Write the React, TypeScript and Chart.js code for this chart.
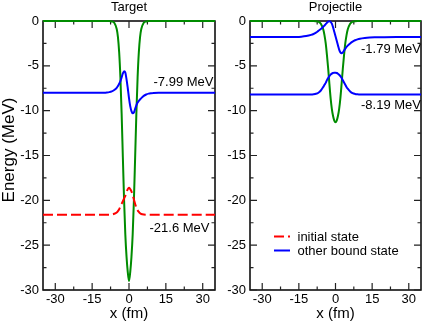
import React, { useEffect, useRef } from "react";
import { Chart, registerables } from "chart.js";

Chart.register(...registerables);

// ---------- data ----------
const xs = [-35, -30, -25, -20, -16, -14, -12, -10, -9, -8, -7, -6, -5, -4.5, -4, -3.5, -3, -2.5, -2, -1.5, -1, -0.5, 0, 0.5, 1, 1.5, 2, 2.5, 3, 3.5, 4, 4.5, 5, 6, 7, 8, 9, 10, 12, 14, 16, 20, 25, 30, 35];

const targetPotential = [0, 0, 0, 0, 0, 0, 0, 0, 0, 0, -0.05, -0.2, -0.9, -1.8, -3.5, -6.3, -10.3, -15.2, -20, -23.8, -26.3, -28, -29, -28, -26.3, -23.8, -20, -15.2, -10.3, -6.3, -3.5, -1.8, -0.9, -0.2, -0.05, 0, 0, 0, 0, 0, 0, 0, 0, 0, 0];
const targetBound = [-7.99, -7.99, -7.99, -7.99, -7.99, -7.99, -7.99, -7.99, -7.97, -7.93, -7.85, -7.7, -7.45, -7.25, -7.0, -6.7, -6.3, -5.85, -5.6, -5.75, -6.5, -7.5, -8.6, -9.5, -10.05, -10.3, -10.2, -9.8, -9.4, -9.1, -8.9, -8.75, -8.6, -8.35, -8.2, -8.1, -8.05, -8.02, -7.99, -7.99, -7.99, -7.99, -7.99, -7.99, -7.99];
const targetInitial = [-21.6, -21.6, -21.6, -21.6, -21.6, -21.6, -21.6, -21.6, -21.6, -21.6, -21.58, -21.5, -21.35, -21.2, -21.0, -20.7, -20.4, -20.1, -19.8, -19.5, -19.1, -18.75, -18.6, -18.75, -19.0, -19.4, -19.9, -20.4, -20.8, -21.1, -21.3, -21.45, -21.52, -21.58, -21.6, -21.6, -21.6, -21.6, -21.6, -21.6, -21.6, -21.6, -21.6, -21.6, -21.6];

const projPotential = [0, 0, 0, 0, 0, 0, 0, 0, 0, -0.02, -0.08, -0.3, -0.95, -1.6, -2.5, -3.8, -5.3, -7.0, -8.6, -9.8, -10.6, -11.1, -11.3, -11.1, -10.6, -9.8, -8.6, -7.0, -5.3, -3.8, -2.5, -1.6, -0.95, -0.3, -0.08, -0.02, 0, 0, 0, 0, 0, 0, 0, 0, 0];
const projBoundUpper = [-1.79, -1.79, -1.79, -1.79, -1.78, -1.75, -1.68, -1.55, -1.45, -1.3, -1.1, -0.9, -0.65, -0.5, -0.35, -0.2, -0.08, -0.03, -0.1, -0.3, -0.7, -1.2, -1.7, -2.2, -2.7, -3.2, -3.5, -3.6, -3.5, -3.3, -3.1, -2.9, -2.75, -2.5, -2.3, -2.15, -2.05, -1.98, -1.9, -1.85, -1.82, -1.8, -1.79, -1.79, -1.79];
const projBoundLower = [-8.19, -8.19, -8.19, -8.19, -8.19, -8.19, -8.19, -8.19, -8.17, -8.12, -8.0, -7.75, -7.35, -7.12, -6.9, -6.6, -6.35, -6.15, -5.98, -5.87, -5.8, -5.76, -5.76, -5.8, -5.88, -6.0, -6.15, -6.35, -6.6, -6.85, -7.1, -7.35, -7.55, -7.85, -8.05, -8.13, -8.17, -8.19, -8.19, -8.19, -8.19, -8.19, -8.19, -8.19, -8.19];

const xTickValues = [-30, -15, 0, 15, 30];
const yTickValues = [-30, -25, -20, -15, -10, -5, 0];

const targetLevelValues = [-7.99, -21.6];
const targetLevelTexts = ["-7.99 MeV", "-21.6 MeV"];
const projLevelValues = [-1.79, -8.19];
const projLevelTexts = ["-1.79 MeV", "-8.19 MeV"];
const legendTexts = ["initial state", "other bound state"];

// ---------- styles ----------
const FONT = "'Liberation Sans', Arial, Helvetica, sans-serif";
const GREEN = "rgb(0,140,0)";
const BLUE = "rgb(0,0,255)";
const RED = "rgb(255,0,0)";

type PanelCfg = {
  title: string;
  yTitle: boolean;
  yWidth: number;
  padRight: number;
  width: number;
  levels: number[];
  levelTexts: string[];
  levelOffsets: { dy: number; dx: number }[];
  legend: boolean;
  datasets: any[];
};

const pts = (ys: number[]) => xs.map((x, i) => ({ x, y: ys[i] }));

const framePlugin = (cfg: PanelCfg) => ({
  id: "frame",
  beforeDatasetsDraw(chart: any) {
    const { ctx, chartArea: a, scales } = chart;
    const xS = scales.x;
    const yS = scales.y;
    ctx.save();
    ctx.strokeStyle = "#000";
    ctx.lineWidth = 1.5;
    ctx.strokeRect(a.left, a.top, a.right - a.left, a.bottom - a.top);
    ctx.lineWidth = 1.2;
    ctx.strokeStyle = "#222";
    const major = 7;
    const minor = 3.5;
    const drawX = (v: number, len: number) => {
      const p = xS.getPixelForValue(v);
      ctx.beginPath();
      ctx.moveTo(p, a.bottom);
      ctx.lineTo(p, a.bottom - len);
      ctx.moveTo(p, a.top);
      ctx.lineTo(p, a.top + len);
      ctx.stroke();
    };
    const drawY = (v: number, len: number) => {
      const p = yS.getPixelForValue(v);
      ctx.beginPath();
      ctx.moveTo(a.left, p);
      ctx.lineTo(a.left + len, p);
      ctx.moveTo(a.right, p);
      ctx.lineTo(a.right - len, p);
      ctx.stroke();
    };
    xTickValues.forEach((v, i) => {
      drawX(v, major);
      if (i > 0) drawX((v + xTickValues[i - 1]) / 2, minor);
    });
    yTickValues.forEach((v, i) => {
      drawY(v, major);
      if (i > 0) drawY((v + yTickValues[i - 1]) / 2, minor);
    });
    ctx.restore();
  },
  afterDraw(chart: any) {
    const { ctx, chartArea: a, scales } = chart;
    const yS = scales.y;
    const cx = (a.left + a.right) / 2;
    ctx.save();
    ctx.fillStyle = "#000";
    ctx.textAlign = "center";
    ctx.textBaseline = "alphabetic";
    ctx.font = `13px ${FONT}`;
    ctx.fillText(cfg.title, cx, 10.5);
    ctx.font = `15px ${FONT}`;
    ctx.fillText("x (fm)", cx, 318);
    if (cfg.yTitle) {
      ctx.save();
      ctx.translate(9, 150);
      ctx.rotate(-Math.PI / 2);
      ctx.font = `17px ${FONT}`;
      ctx.textBaseline = "middle";
      ctx.fillText("Energy (MeV)", 0, 0);
      ctx.restore();
    }
    // level annotations
    ctx.font = `13px ${FONT}`;
    ctx.textAlign = "right";
    ctx.textBaseline = "alphabetic";
    cfg.levels.forEach((lv, i) => {
      const off = cfg.levelOffsets[i];
      ctx.fillText(cfg.levelTexts[i], a.right + off.dx, yS.getPixelForValue(lv) + off.dy);
    });
    // legend
    if (cfg.legend) {
      const lx0 = a.left + 24;
      const lx1 = lx0 + 16;
      const rows = [
        { y: 236.5, color: RED, dash: [10, 4] },
        { y: 250.5, color: BLUE, dash: [] as number[] },
      ];
      rows.forEach((r, i) => {
        ctx.beginPath();
        ctx.strokeStyle = r.color;
        ctx.lineWidth = 2;
        ctx.setLineDash(r.dash);
        ctx.moveTo(lx0, r.y);
        ctx.lineTo(lx1, r.y);
        ctx.stroke();
        ctx.setLineDash([]);
        ctx.textAlign = "left";
        ctx.fillStyle = "#000";
        ctx.fillText(legendTexts[i], lx1 + 7.5, r.y + 4.8);
      });
    }
    ctx.restore();
  },
});

const makeOptions = (cfg: PanelCfg) => ({
  responsive: false,
  animation: false as const,
  devicePixelRatio: 1,
  layout: { padding: { left: 0, top: 21, right: cfg.padRight, bottom: 0 } },
  plugins: { legend: { display: false }, title: { display: false }, tooltip: { enabled: false } },
  elements: { point: { radius: 0 } },
  scales: {
    x: {
      type: "linear" as const,
      min: -35,
      max: 35,
      grid: { display: false, drawTicks: false },
      border: { display: false },
      ticks: { font: { family: FONT, size: 13 }, color: "#000", padding: 2, maxRotation: 0 },
      afterBuildTicks: (s: any) => {
        s.ticks = xTickValues.map((v) => ({ value: v }));
      },
      afterFit: (s: any) => {
        s.height = 33;
      },
    },
    y: {
      type: "linear" as const,
      min: -30,
      max: 0,
      grid: { display: false, drawTicks: false },
      border: { display: false },
      ticks: { font: { family: FONT, size: 13 }, color: "#000", padding: 4 },
      afterBuildTicks: (s: any) => {
        s.ticks = yTickValues.map((v) => ({ value: v }));
      },
      afterFit: (s: any) => {
        s.width = cfg.yWidth;
      },
    },
  },
});

const lineDs = (ys: number[], color: string, dash: number[] = []) => ({
  data: pts(ys),
  borderColor: color,
  backgroundColor: color,
  borderWidth: 2,
  borderDash: dash,
  pointRadius: 0,
  fill: false,
  clip: 3,
  cubicInterpolationMode: "monotone" as const,
});

const targetCfg: PanelCfg = {
  title: "Target",
  yTitle: true,
  yWidth: 43,
  padRight: 5,
  width: 220,
  levels: targetLevelValues,
  levelTexts: targetLevelTexts,
  levelOffsets: [
    { dy: -6.6, dx: -1.5 },
    { dy: 17, dx: -5.5 },
  ],
  legend: false,
  datasets: [
    lineDs(targetInitial, RED, [10, 4]),
    lineDs(targetBound, BLUE),
    lineDs(targetPotential, GREEN),
  ],
};

const projCfg: PanelCfg = {
  title: "Projectile",
  yTitle: false,
  yWidth: 30,
  padRight: 4,
  width: 205,
  levels: projLevelValues,
  levelTexts: projLevelTexts,
  levelOffsets: [
    { dy: 16.3, dx: 0 },
    { dy: 15, dx: 0 },
  ],
  legend: true,
  datasets: [
    lineDs(projBoundUpper, BLUE),
    lineDs(projBoundLower, BLUE),
    lineDs(projPotential, GREEN),
  ],
};

function Panel({ cfg, left }: { cfg: PanelCfg; left: number }) {
  const ref = useRef<HTMLCanvasElement | null>(null);
  useEffect(() => {
    if (!ref.current) return;
    const chart = new Chart(ref.current, {
      type: "line",
      data: { datasets: cfg.datasets },
      options: makeOptions(cfg) as any,
      plugins: [framePlugin(cfg)],
    });
    return () => chart.destroy();
  }, [cfg]);
  return (
    <canvas
      ref={ref}
      width={cfg.width}
      height={323}
      style={{ position: "absolute", left, top: 0, width: cfg.width, height: 323, display: "block" }}
    />
  );
}

export default function App() {
  return (
    <div style={{ position: "absolute", left: 0, top: 0, width: 425, height: 323, background: "#fff", overflow: "hidden" }}>
      <Panel cfg={targetCfg} left={0} />
      <Panel cfg={projCfg} left={220} />
    </div>
  );
}
